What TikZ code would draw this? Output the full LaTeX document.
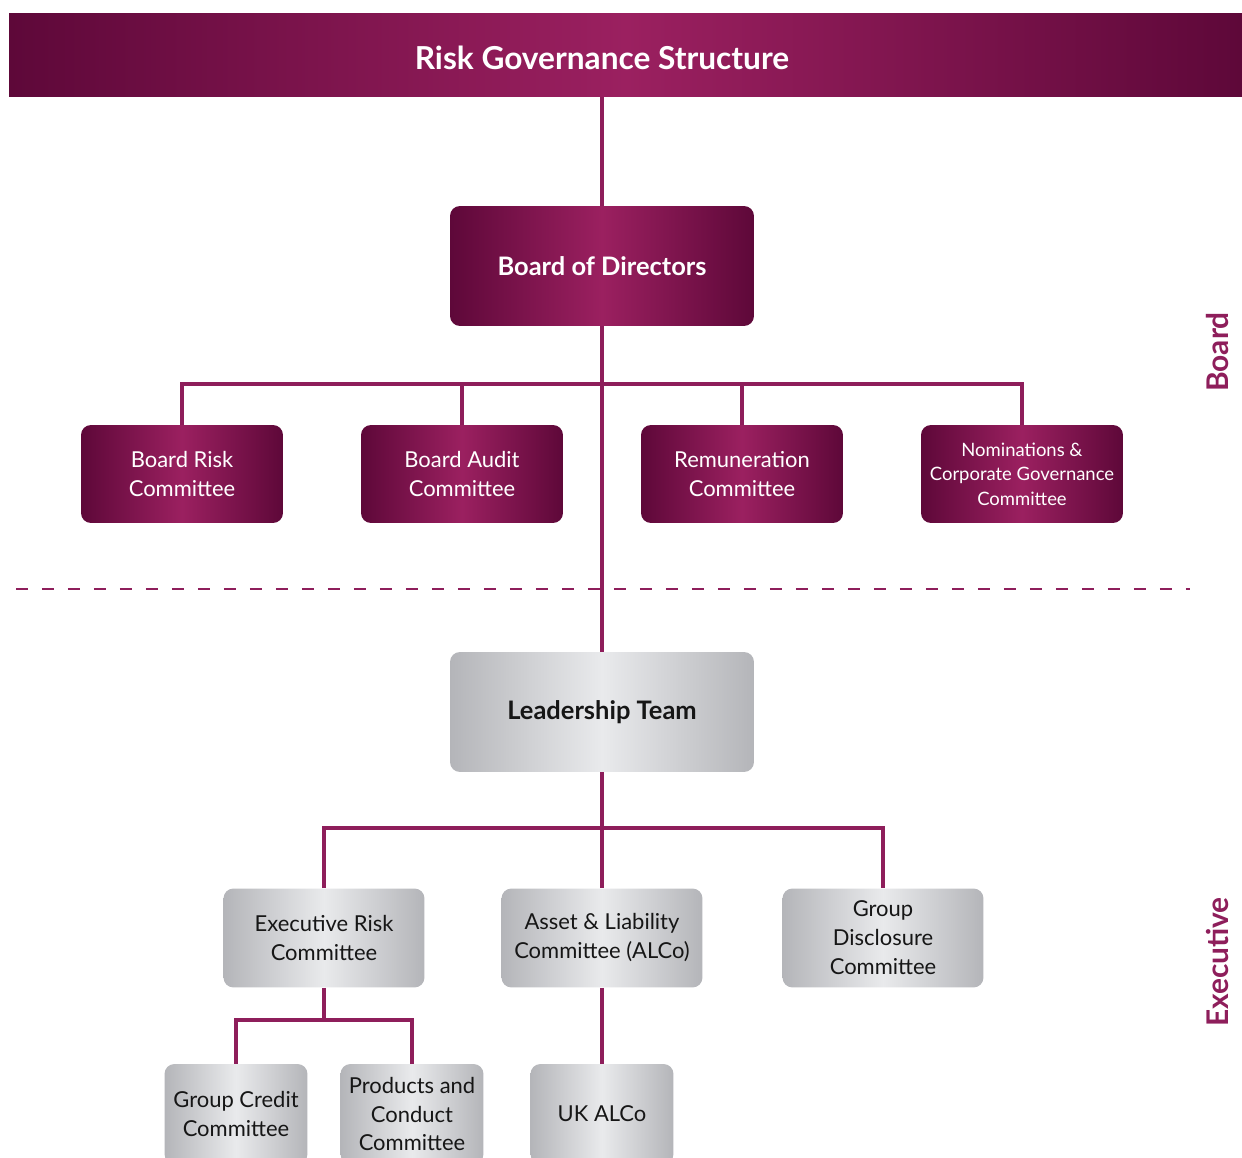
\documentclass[tikz,border=0pt]{standalone}
\usepackage{fontspec}
\setmainfont{Lato}
\usepackage{tikz}
\usetikzlibrary{positioning}

\definecolor{plumdark}{HTML}{5E0839}
\definecolor{plumlight}{HTML}{9B2060}
\definecolor{plumline}{HTML}{8E1E5B}
\definecolor{greyedge}{HTML}{B4B5B9}
\definecolor{greymid}{HTML}{E9EAEC}
\definecolor{inkdark}{HTML}{161616}

\tikzset{
  plumbox/.style={rounded corners=0.2cm, left color=plumdark, right color=plumdark, middle color=plumlight,
    text=white, align=center, inner sep=0pt, font=\fontsize{12.5}{16.5}\selectfont},
  greybox/.style={rounded corners=0.2cm, left color=greyedge, right color=greyedge, middle color=greymid,
    text=inkdark, align=center, inner sep=0pt, font=\fontsize{12.5}{16.5}\selectfont},
  link/.style={draw=plumline, line width=2pt},
  sidelabel/.style={rotate=90, text=plumline, font=\fontsize{17}{20}\selectfont\bfseries},
}

\begin{document}
\begin{tikzpicture}[x=0.02cm,y=-0.02cm]
\clip (0,0) rectangle (1242,1158);
\fill[white] (0,0) rectangle (1242,1158);

%Title banner
\node[plumbox, rounded corners=0pt, minimum width=24.66cm, minimum height=1.68cm] (banner) at (625.5,55) {};
\node[text=white, font=\fontsize{18}{21}\selectfont\bfseries] (title) at (602,58) {Risk Governance Structure};

%Board
\node[plumbox, minimum width=6.08cm, minimum height=2.4cm, font=\fontsize{14.5}{18}\selectfont\bfseries] (bod) at (602,266) {Board of Directors};
\node[plumbox, minimum width=4.04cm, minimum height=1.96cm] (brc) at (182,474) {Board Risk\\Committee};
\node[plumbox, minimum width=4.04cm, minimum height=1.96cm] (bac) at (462,474) {Board Audit\\Committee};
\node[plumbox, minimum width=4.04cm, minimum height=1.96cm] (rem) at (742,474) {Remuneration\\Committee};
\node[plumbox, minimum width=4.04cm, minimum height=1.96cm, font=\fontsize{10.5}{14}\selectfont] (nom) at (1022,474) {Nominations \&\\Corporate Governance\\Committee};

%Executive
\node[greybox, minimum width=6.08cm, minimum height=2.4cm, font=\fontsize{14.5}{18}\selectfont\bfseries] (lt) at (602,712) {Leadership Team};
\node[greybox, minimum width=4.02cm, minimum height=1.98cm] (erc) at (324,938) {Executive Risk\\Committee};
\node[greybox, minimum width=4.02cm, minimum height=1.98cm] (alco) at (602,938) {Asset \& Liability\\Committee (ALCo)};
\node[greybox, minimum width=4.02cm, minimum height=1.98cm] (gdc) at (883,938) {Group\\Disclosure\\Committee};
\node[greybox, minimum width=2.86cm, minimum height=2cm] (gcc) at (236,1114) {Group Credit\\Committee};
\node[greybox, minimum width=2.86cm, minimum height=2cm] (pcc) at (412,1114) {Products and\\Conduct\\Committee};
\node[greybox, minimum width=2.86cm, minimum height=2cm] (uk) at (602,1114) {UK ALCo};

%Side labels
\node[sidelabel] (boardlbl) at (1218,352) {Board};
\node[sidelabel] (execlbl) at (1218,962) {Executive};

%Divider
\coordinate (divl) at (16,589);
\coordinate (divr) at (1190,589);
\draw[draw=plumline, line width=1.6pt, dash pattern=on 0.24cm off 0.28cm] (divl) -- (divr);

%Connectors
\coordinate (bbar) at (602,384);
\coordinate (ebar) at (602,828);
\coordinate (rbar) at (324,1020);
\draw[link] (bod.north |- banner.south) -- (bod.north);
\draw[link] (bod.south) -- (lt.north);
\draw[link] (brc.north) |- (bbar) -| (nom.north);
\draw[link] (bac.north) -- (bac.north |- bbar);
\draw[link] (rem.north) -- (rem.north |- bbar);
\draw[link] (erc.north) |- (ebar) -| (gdc.north);
\draw[link] (lt.south) -- (alco.north);
\draw[link] (erc.south) -- (rbar);
\draw[link] (gcc.north) |- (rbar) -| (pcc.north);
\draw[link] (alco.south) -- (uk.north);

\end{tikzpicture}
\end{document}
